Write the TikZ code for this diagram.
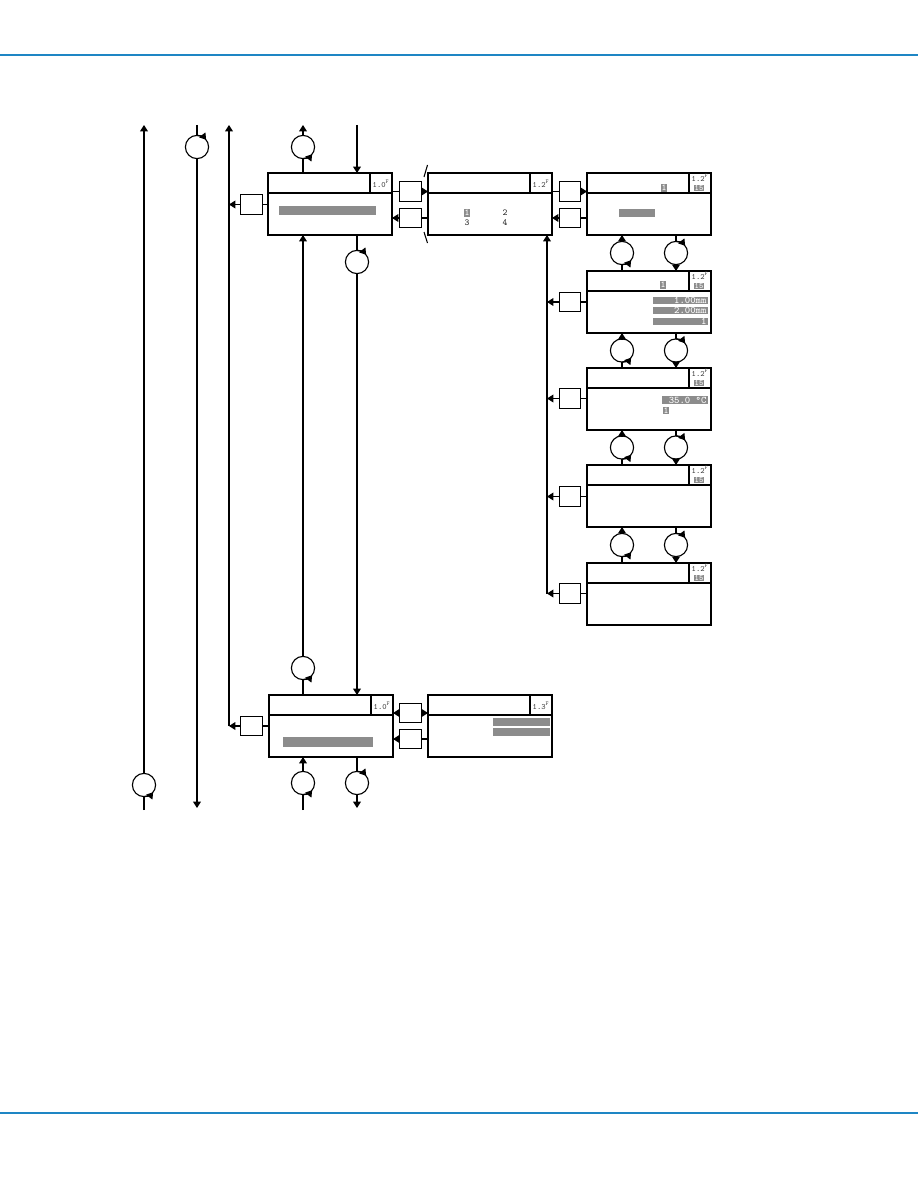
\documentclass[tikz,border=0pt]{standalone}
\usepackage{tikz}
\usetikzlibrary{arrows.meta,calc}
\definecolor{rule}{RGB}{30,134,196}
\definecolor{lcd}{gray}{0.55}
\def\lcdfont{\fontsize{6.5}{7}\selectfont\ttfamily}
\def\barfont{\fontsize{7.2}{8}\selectfont\ttfamily}
\def\verfont{\fontsize{5.8}{6}\selectfont\ttfamily}
\tikzset{
  screen/.style={draw, rectangle, anchor=north west, minimum width=3.1cm, minimum height=1.55cm, inner sep=0pt, outer sep=0pt, line width=0.85pt},
  key/.style={draw, rectangle, minimum width=0.53cm, minimum height=0.49cm, inner sep=0pt, outer sep=0pt, line width=0.8pt},
  knob/.style={draw, circle, minimum size=0.58cm, inner sep=0pt, outer sep=0pt, line width=0.8pt},
  go/.style={-{Triangle[length=4.5pt,width=5.5pt]}},
  lcdtxt/.style={font=\lcdfont, text=black!85, inner sep=0.5pt},
  vertxt/.style={font=\verfont, text=black!75, inner sep=0.3pt},
  inv/.style={font=\lcdfont, fill=lcd, text=white, inner sep=0.6pt},
}
% screen frame with header line and version cell
\newcommand{\screen}[2]{%
  \node[screen] (#1) at (#2) {};
  \draw[line width=0.85pt] (#1.north west) ++(0,20) -- ++(124,0);
  \draw[line width=0.85pt] (#1.north east) ++(-22,0) -- ++(0,20);}
\newcommand{\ver}[2]{\node[vertxt] at ($(#1.north east)+(-11,11)$) {#2\textsuperscript{F}};}
\newcommand{\verp}[1]{%
  \node[vertxt] at ($(#1.north east)+(-11,5)$) {1.2\textsuperscript{F}};
  \node[vertxt, fill=lcd, text=white] at ($(#1.north east)+(-12,15)$) {15};}
\newcommand{\spinup}[1]{\draw[go, line width=0.8pt] (#1.center) ++(-90:0.29cm) arc (-90:-38:0.29cm);}
\newcommand{\spindn}[1]{\draw[go, line width=0.8pt] (#1.center) ++(90:0.29cm) arc (90:38:0.29cm);}
\newcommand{\lcdbar}[5]{%
  \fill[lcd] (#1,#2) rectangle (#3,#4);
  \node[font=\barfont, text=white, inner sep=0pt, anchor=east] at ($(#3,#2)!0.5!(#3,#4)+(-1,0)$) {#5};}

\begin{document}
\begin{tikzpicture}[x=0.025cm,y=-0.025cm,line width=0.75pt]
  \useasboundingbox (0,0) rectangle (918,1188);
  %%%%% PAGE RULES %%%%%
  \draw[rule, line width=1.5pt] (0,55) -- (918,55);
  \draw[rule, line width=1.5pt] (0,1113) -- (918,1113);

  %%%%% SCREENS %%%%%
  \screen{s10}{268,173} \ver{s10}{1.0}
  \screen{s12}{428,173} \ver{s12}{1.2}
  \screen{s3}{587,173} \verp{s3}
  \screen{s4}{587,271} \verp{s4}
  \screen{s5}{587,368} \verp{s5}
  \screen{s6}{587,465} \verp{s6}
  \screen{s7}{587,563} \verp{s7}
  \screen{s8}{269,695} \ver{s8}{1.0}
  \screen{s9}{428,695} \ver{s9}{1.3}

  % screen contents
  \fill[lcd] (279,206) rectangle (376,215);
  \fill[lcd] (283,737) rectangle (373,747);
  \node[inv] at (467,213) {1};
  \node[lcdtxt] at (505,213) {2};
  \node[lcdtxt] at (467,223) {3};
  \node[lcdtxt] at (505,223) {4};
  \node[inv] at (664,188) {1};
  \fill[lcd] (619,209) rectangle (655,217);
  \node[inv] at (663,285) {1};
  \lcdbar{653}{297}{708}{304}{1.00mm}
  \lcdbar{653}{307}{708}{314}{2.00mm}
  \lcdbar{653}{318}{708}{325}{1}
  \lcdbar{662}{396}{708}{404}{35.0 \textdegree C}
  \node[inv] at (666,410.5) {1};
  \fill[lcd] (493,718) rectangle (550,726);
  \fill[lcd] (493,728) rectangle (550,736);

  % break marks
  \draw ($(s12.north west)+(-0.5,-8)$) -- ++(-3.5,12);
  \draw ($(s12.south west)+(-4,-3)$) -- ++(3.5,11);

  %%%%% KEYS %%%%%
  \node[key] (kL1) at (251.5,204.5) {};
  \node[key] (kA) at (410.5,191.5) {};
  \node[key] (kB) at (410.5,218) {};
  \node[key] (kC) at (570,191.5) {};
  \node[key] (kD) at (570,218) {};
  \node[key] (k4) at (570,302) {};
  \node[key] (k5) at (570,398.5) {};
  \node[key] (k6) at (570,496.5) {};
  \node[key] (k7) at (570,593.5) {};
  \node[key] (kL8) at (251.5,726) {};
  \node[key] (kE) at (410.5,713) {};
  \node[key] (kF) at (410.5,739) {};

  %%%%% KNOBS %%%%%
  \node[knob] (c1) at (144,785) {}; \spinup{c1}
  \node[knob] (c2) at (197,147) {}; \spindn{c2}
  \node[knob] (c3) at (303,147) {}; \spinup{c3}
  \node[knob] (c4) at (357,262) {}; \spindn{c4}
  \node[knob] (c5) at (303,668) {}; \spinup{c5}
  \node[knob] (c6) at (303,783) {}; \spinup{c6}
  \node[knob] (c7) at (357,783) {}; \spindn{c7}

  %%%%% LOOSE ENDS %%%%%
  \coordinate (t144) at (144,125);
  \coordinate (b144) at (144,810);
  \coordinate (t197) at (197,125);
  \coordinate (b197) at (197,808);
  \coordinate (t229) at (229,125);
  \coordinate (t303) at (303,125);
  \coordinate (b303) at (303,810);
  \coordinate (t357) at (357,125);
  \coordinate (b357) at (357,808);
  \coordinate (bus) at (547,235);

  %%%%% LEFT LINES %%%%%
  \draw (b144) -- (c1.south);
  \draw[go] (c1.north) -- (t144);
  \draw (t197) -- (c2.north);
  \draw[go] (c2.south) -- (b197);
  \draw[go] (kL8.west -| t229) -- (t229);
  \draw (s10.west |- kL1) -- (kL1.east);
  \draw[go] (kL1.west) -- (kL1.west -| t229);
  \draw (s8.west |- kL8) -- (kL8.east);
  \draw[go] (kL8.west) -- (kL8.west -| t229);

  %%%%% MAIN SCREEN LINES %%%%%
  \draw (s10.north -| c3) -- (c3.south);
  \draw[go] (c3.north) -- (t303);
  \draw[go] (t357) -- (t357 |- s10.north);
  \draw (s10.south -| c4) -- (c4.north);
  \draw[go] (c4.south) -- (s8.north -| c4);
  \draw (s8.north -| c5) -- (c5.south);
  \draw[go] (c5.north) -- (s10.south -| c5);
  \draw (b303) -- (c6.south);
  \draw[go] (c6.north) -- (s8.south -| c6);
  \draw (s8.south -| c7) -- (c7.north);
  \draw[go] (c7.south) -- (b357);

  %%%%% KEY LINKS %%%%%
  \draw (s10.east |- kA) -- (kA.west);
  \draw[go] (kA.east) -- (s12.west |- kA);
  \draw (s12.west |- kB) -- (kB.east);
  \draw[go] (kB.west) -- (s10.east |- kB);
  \draw (s12.east |- kC) -- (kC.west);
  \draw[go] (kC.east) -- (s3.west |- kC);
  \draw (s3.west |- kD) -- (kD.east);
  \draw[go] (kD.west) -- (s12.east |- kD);
  \draw[go] (kE.west) -- (s8.east |- kE);
  \draw[go] (kE.east) -- (s9.west |- kE);
  \draw (s9.west |- kF) -- (kF.east);
  \draw[go] (kF.west) -- (s8.east |- kF);

  % back bus to 1.2
  \draw[go] (k7.west -| bus) -- (bus);
  \foreach \s/\k in {s4/k4, s5/k5, s6/k6, s7/k7} {
    \draw (\s.west |- \k) -- (\k.east);
    \draw[go] (\k.west) -- (\k.west -| bus);
  }

  %%%%% SUBMENU KNOBS %%%%%
  \foreach \a/\b/\n in {s3/s4/1, s4/s5/2, s5/s6/3, s6/s7/4} {
    \path ($(\a.south west)!0.5!(\b.north west)$) coordinate (m\n);
    \node[knob] (ku\n) at ($(m\n)+(35,0)$) {}; \spinup{ku\n}
    \node[knob] (kd\n) at ($(m\n)+(89,0)$) {}; \spindn{kd\n}
    \draw (\b.north -| ku\n) -- (ku\n.south);
    \draw[go] (ku\n.north) -- (\a.south -| ku\n);
    \draw (\a.south -| kd\n) -- (kd\n.north);
    \draw[go] (kd\n.south) -- (\b.north -| kd\n);
  }
\end{tikzpicture}
\end{document}
